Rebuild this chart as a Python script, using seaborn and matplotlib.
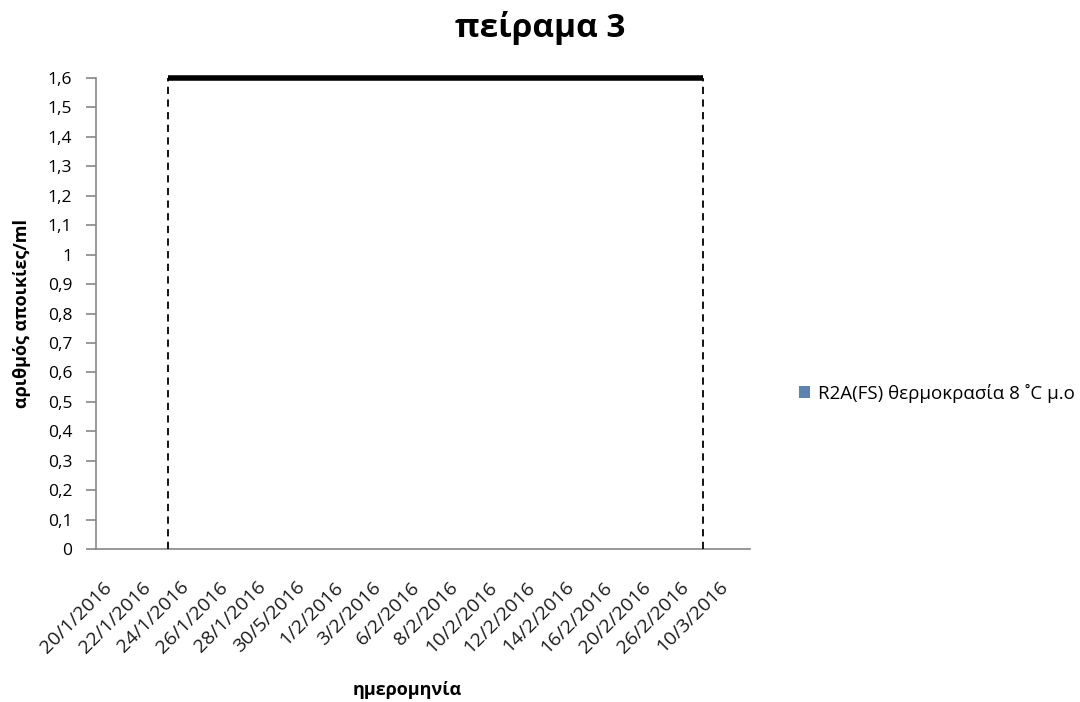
import matplotlib
matplotlib.use("Agg")
import matplotlib.pyplot as plt
import matplotlib.transforms as mtransforms
import seaborn as sns
import pandas as pd
from matplotlib.ticker import MultipleLocator, FuncFormatter

# Sampling dates and mean colony counts
dates = ["20/1/2016", "22/1/2016", "24/1/2016", "26/1/2016", "28/1/2016",
         "30/5/2016", "1/2/2016", "3/2/2016", "6/2/2016", "8/2/2016",
         "10/2/2016", "12/2/2016", "14/2/2016", "16/2/2016", "20/2/2016",
         "26/2/2016", "10/3/2016"]
counts = [0, 0, 0, 0, 0, 0, 0, 0, 0, 0, 0, 0, 0, 0, 0, 0, 0]
series_name = "R2A(FS) θερμοκρασία 8 ˚C μ.ο"

# Outlined range drawn over the categories (in category units) up to the axis top
range_x = [1.38, 15.27]
range_top = 1.6

y_max = 1.6
y_step = 0.1

sns.set_theme(style="white")
plt.rcParams["font.family"] = ["Open Sans", "DejaVu Sans"]
plt.rcParams["text.color"] = "black"
plt.rcParams["axes.labelcolor"] = "black"

df = pd.DataFrame({"date": dates, "count": counts})

fig = plt.figure(figsize=(10.8, 7.02), dpi=100)
ax = fig.add_axes([96 / 1080, 1 - 549 / 702, 654 / 1080, (549 - 78) / 702])

sns.barplot(data=df, x="date", y="count", color="#4F81BD", linewidth=0,
            label=series_name, ax=ax, width=0.6)

ax.set_ylim(0, y_max)
ax.set_xlim(-0.5, len(dates) - 0.5)
ax.yaxis.set_major_locator(MultipleLocator(y_step))
ax.yaxis.set_major_formatter(FuncFormatter(lambda v, _: f"{v:.1f}".rstrip("0").rstrip(".").replace(".", ",")))

# Range outline: dashed sides, heavy top edge
ax.vlines(range_x, 0, range_top, colors="black", linestyles=(0, (4, 3)), linewidth=1.3, zorder=3)
ax.hlines(range_top, range_x[0], range_x[1], colors="black", linewidth=4, zorder=4, clip_on=False)

for side in ["top", "right"]:
    ax.spines[side].set_visible(False)
for side in ["left", "bottom"]:
    ax.spines[side].set_color("#868686")
    ax.spines[side].set_linewidth(1.2)

ax.tick_params(axis="y", which="major", left=True, length=7, width=1.2, color="#868686",
               labelsize=12.5, pad=10, labelcolor="black")
ax.tick_params(axis="x", bottom=False, labelsize=14, pad=19.5, labelcolor="#1a1a1a")
shift = mtransforms.ScaledTranslation(-6 / 100, 0, fig.dpi_scale_trans)
for lbl in ax.get_xticklabels():
    lbl.set_rotation(45)
    lbl.set_ha("right")
    lbl.set_va("center")
    lbl.set_rotation_mode("anchor")
    lbl.set_transform(lbl.get_transform() + shift)

ax.set_xlabel("ημερομηνία", fontsize=13, fontweight="bold", va="center")
ax.xaxis.set_label_coords((407 - 96) / 654, -(690 - 549) / 471)
ax.set_ylabel("αριθμός αποικίες/ml", fontsize=13, fontweight="bold", va="center")
ax.yaxis.set_label_coords(-(96 - 22) / 654, 0.5)

fig.text(0.5, 1 - 28 / 702, "πείραμα 3", ha="center", va="center",
         fontsize=24, fontweight="bold", color="black")

ax.legend(loc="center left", bbox_to_anchor=(799 / 1080, 1 - 393 / 702),
          bbox_transform=fig.transFigure, frameon=False, fontsize=13.5,
          handlelength=0.6, handleheight=0.6, handletextpad=0.4, borderaxespad=0,
          borderpad=0, labelcolor="black")

fig.savefig("out.png", dpi=100, facecolor="white")
